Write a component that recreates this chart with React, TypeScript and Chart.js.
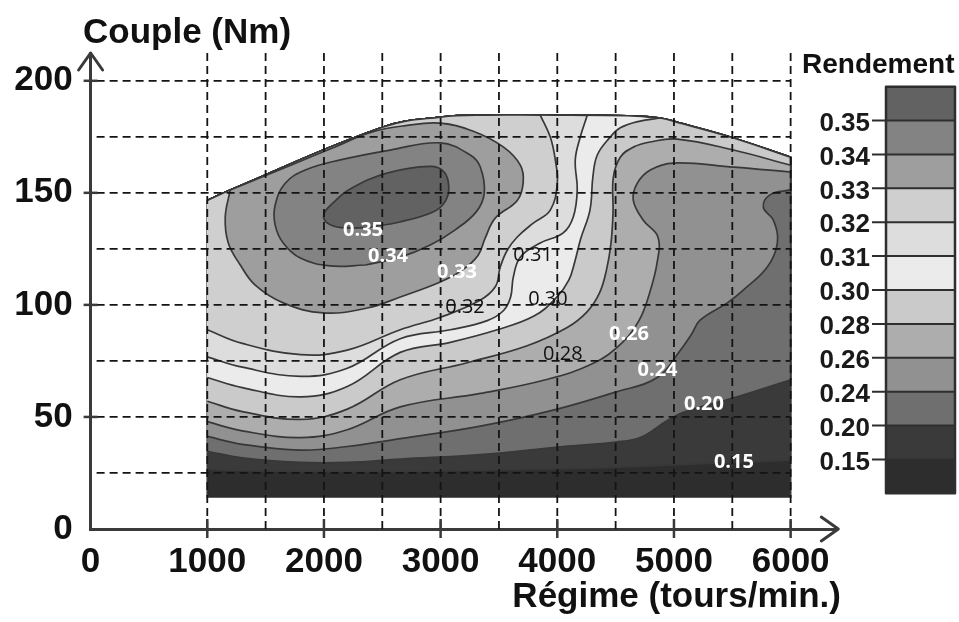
import { useEffect, useRef } from 'react';
import { Chart, registerables } from 'chart.js';

Chart.register(...registerables);

type Pt = [number, number];

// ---------- axes ----------
const rpmMax = 6400;
const torqueMax = 212.4;
const rpmTicks = [0, 1000, 2000, 3000, 4000, 5000, 6000];
const torqueTicks = [0, 50, 100, 150, 200];
const rpmGrid = [1000, 1500, 2000, 2500, 3000, 3500, 4000, 4500, 5000, 5500, 6000];
const torqueGrid = [25, 50, 75, 100, 125, 150, 175, 200];
const rpmTickMarks = [1000, 2000, 3000, 4000, 5000, 6000];
const torqueTickMarks = [50, 100, 150, 200];

// ---------- map outline (rpm, Nm) ----------
const mapLeftRpm = 1000;
const mapRightRpm = 6000;
const mapFloorNm = 14;
const envelopeTop: Pt[] = [
  [1000, 146.6], [1197, 151.3], [2508, 179.4], [3000, 183.8], [3400, 184.7],
  [4000, 184.7], [4600, 184.4], [4883, 183.4], [5054, 181.1], [5483, 174.9], [6000, 165.9],
];

// ---------- iso-efficiency lines (left edge -> envelope) ----------
const iso015: Pt[] = [[1000, 26.6], [1300, 26.1], [1800, 25.6], [2200, 25.6], [2654, 25.6], [3200, 26.1], [3800, 26.6], [4400, 27.4], [5000, 28.6], [5500, 29.7], [6000, 30.7]];
const iso020: Pt[] = [[1000, 34.7], [1300, 31.7], [1800, 29.7], [2200, 29.7], [2654, 31.2], [3341, 33.2], [4050, 36.8], [4500, 38.8], [4711, 40.8], [4943, 48.4], [5100, 52.4], [5510, 58.5], [6000, 66.6]];
const iso024: Pt[] = [[1000, 41.3], [1300, 37.8], [1800, 35.2], [2200, 36.8], [2654, 40.3], [3341, 45.9], [4000, 53.5], [4500, 61.1], [4857, 67.6], [5055, 79.8], [5150, 86.9], [5226, 93.3], [5457, 100.9], [5594, 106.6], [5800, 116.9], [5886, 127.6], [5852, 137.8], [5766, 143.6], [5826, 149.2], [6000, 151.3]];
const iso026: Pt[] = [[1000, 47.9], [1300, 43.8], [1800, 40.8], [2200, 44.3], [2654, 54.5], [3341, 60.5], [3900, 66.6], [4300, 73.7], [4550, 82.8], [4700, 93], [4790, 105.1], [4857, 119.3], [4862, 130.4], [4737, 137.8], [4651, 146.8], [4686, 154.3], [4797, 160.2], [4994, 163.3], [5511, 161.5], [6000, 159.3]];
const iso028: Pt[] = [[1000, 57], [1300, 52.4], [1800, 48.9], [2200, 53.5], [2654, 66.6], [3228, 74.2], [3742, 81.8], [4085, 89.9], [4257, 97], [4360, 105.1], [4420, 115.2], [4460, 127.4], [4478, 141.6], [4480, 156.8], [4540, 165.9], [4651, 170.4], [4797, 172.7], [5028, 174], [5511, 169.1], [6000, 162.3]];
const iso030: Pt[] = [[1000, 67.6], [1300, 63.1], [1800, 59], [2200, 63.6], [2654, 78.8], [3083, 83.3], [3485, 88.9], [3800, 95], [3990, 103.1], [4100, 111.2], [4150, 119.3], [4200, 129.4], [4280, 142.3], [4305, 157.1], [4343, 166.9], [4454, 174.9], [4540, 179], [4700, 181.9], [4883, 183.4]];
const iso031: Pt[] = [[1000, 76.8], [1300, 72.2], [1800, 68.1], [2200, 71.7], [2654, 84.9], [3083, 88.9], [3400, 93], [3540, 97.5], [3600, 103.5], [3623, 112.4], [3683, 121.3], [3854, 127.6], [4051, 132.1], [4137, 139.2], [4171, 151.3], [4154, 164.7], [4197, 174.9], [4257, 184.6]];
const iso032: Pt[] = [[1000, 88.9], [1300, 82.8], [1800, 77.8], [2200, 79.8], [2654, 88.9], [3000, 94.5], [3330, 101.8], [3470, 108.2], [3511, 116.9], [3571, 124.4], [3657, 130.3], [3794, 136.5], [3940, 142.3], [4000, 154.3], [3983, 164.7], [3940, 174.9], [3854, 184.7]];
// closed islands
const iso033: Pt[] = [[1197, 151.3], [1700, 162], [2100, 170.6], [2400, 177], [2700, 180], [2997, 181.1], [3280, 177.5], [3537, 170.5], [3683, 162.4], [3708, 154.7], [3657, 146.6], [3468, 138.7], [3382, 129.8], [3322, 122.2], [3185, 115.5], [2997, 110.2], [2654, 103.5], [2371, 98.6], [1994, 96.4], [1651, 100.9], [1411, 108.8], [1283, 117.8], [1180, 127.6], [1154, 139.2]];
const iso034: Pt[] = [[2354, 117.8], [2054, 117.4], [1797, 120.9], [1651, 127.6], [1582, 135.6], [1582, 144.6], [1668, 154.3], [1840, 160.2], [2140, 164.7], [2568, 169.1], [2997, 172.3], [3254, 166.9], [3340, 161.5], [3374, 149.9], [3305, 141.5], [3125, 133.5], [2911, 126.7], [2654, 121.3]];
const iso035: Pt[] = [[2370, 134.5], [2150, 134.5], [2030, 136.5], [2000, 140.6], [2080, 145.6], [2225, 151.7], [2540, 158.8], [2910, 161.8], [3030, 159.3], [3070, 152.7], [3040, 146.2], [2940, 141.6], [2650, 137]];

// ---------- levels & colours ----------
const levelLabels = ['0.15', '0.20', '0.24', '0.26', '0.28', '0.30', '0.31', '0.32', '0.33', '0.34', '0.35'];
// index 0 = below 0.15 ... index 11 = above 0.35
const bandColors = ['#2d2d2d', '#3a3a3a', '#6f6f6f', '#919191', '#adadad', '#cacaca', '#ebebeb', '#dddddd', '#cfcfcf', '#9e9e9e', '#838383', '#626262'];

// ---------- contour labels ----------
const tagText = ['0.35', '0.34', '0.33', '0.32', '0.31', '0.30', '0.28', '0.26', '0.24', '0.20', '0.15'];
const tagRpm = [2335, 2549, 3140, 3209, 3792, 3920, 4048, 4615, 4859, 5257, 5514];
const tagNm = [133.4, 121.8, 114.7, 98.8, 122, 102.4, 77.9, 86.8, 70.7, 55.5, 29.7];
const tagWhite = [true, true, true, false, false, false, false, true, true, true, true];

const FONT_AXIS = '"Liberation Sans", Arial, Helvetica, sans-serif';
const FONT_TAG = '"Open Sans", "Noto Sans", sans-serif';
const LINE_COLOR = '#383838';
const AXIS_COLOR = '#3a3a3a';

function twice(p: Pt): Pt[] {
  return [p, p];
}

function outlineRegion(): Pt[] {
  const first = envelopeTop[0];
  const last = envelopeTop[envelopeTop.length - 1];
  return [[mapLeftRpm, mapFloorNm], ...twice(first), ...envelopeTop.slice(1, -1), ...twice(last), [mapRightRpm, mapFloorNm]];
}

function regionAbove(iso: Pt[]): Pt[] {
  const end = iso[iso.length - 1];
  const endsOnRight = end[0] >= mapRightRpm;
  const back = envelopeTop.filter((p) => endsOnRight || p[0] < end[0] - 30).reverse();
  const pts: Pt[] = [...iso.slice(0, -1), ...twice(end)];
  if (endsOnRight) pts.push(...twice(back[0]), ...back.slice(1));
  else pts.push(...back);
  return pts;
}

function closeLoop(loop: Pt[]): Pt[] {
  return [...loop, loop[0]];
}

const decorPlugin = {
  id: 'decor',
  afterDatasetsDraw(chart: any) {
    const { ctx } = chart;
    const xs = chart.scales.x;
    const ys = chart.scales.y;
    ctx.save();
    // dashed grid over the map
    ctx.strokeStyle = '#141414';
    ctx.lineWidth = 1.8;
    ctx.setLineDash([8, 5]);
    const yBottom = ys.getPixelForValue(0);
    const yTop = ys.getPixelForValue(torqueMax);
    for (const r of rpmGrid) {
      const px = xs.getPixelForValue(r);
      ctx.beginPath();
      ctx.moveTo(px, yTop);
      ctx.lineTo(px, yBottom);
      ctx.stroke();
    }
    const xStart = xs.getPixelForValue(0) + 6;
    const xEnd = xs.getPixelForValue(mapRightRpm);
    for (const t of torqueGrid) {
      const py = ys.getPixelForValue(t);
      ctx.beginPath();
      ctx.moveTo(xStart, py);
      ctx.lineTo(xEnd, py);
      ctx.stroke();
    }
    ctx.setLineDash([]);
    // contour values
    ctx.textAlign = 'center';
    ctx.textBaseline = 'middle';
    tagText.forEach((t, i) => {
      ctx.font = `${tagWhite[i] ? 'bold ' : ''}20px ${FONT_TAG}`;
      ctx.fillStyle = tagWhite[i] ? '#ffffff' : '#111111';
      ctx.fillText(t, xs.getPixelForValue(tagRpm[i]), ys.getPixelForValue(tagNm[i]));
    });
    ctx.restore();
  },
  afterDraw(chart: any) {
    const { ctx } = chart;
    const xs = chart.scales.x;
    const ys = chart.scales.y;
    const ax = xs.getPixelForValue(0);
    const ay = ys.getPixelForValue(0);
    const top = ys.getPixelForValue(torqueMax);
    const right = xs.getPixelForValue(rpmMax);
    ctx.save();
    ctx.strokeStyle = AXIS_COLOR;
    ctx.lineWidth = 3;
    ctx.lineCap = 'round';
    ctx.lineJoin = 'round';
    // arrow heads
    ctx.beginPath();
    ctx.moveTo(ax - 12, top + 17);
    ctx.lineTo(ax, top);
    ctx.lineTo(ax + 12, top + 17);
    ctx.stroke();
    ctx.beginPath();
    ctx.moveTo(right - 16, ay - 12);
    ctx.lineTo(right + 1, ay);
    ctx.lineTo(right - 16, ay + 12);
    ctx.stroke();
    // tick marks
    ctx.lineWidth = 2.5;
    ctx.lineCap = 'butt';
    for (const t of torqueTickMarks) {
      const py = ys.getPixelForValue(t);
      ctx.beginPath();
      ctx.moveTo(ax - 7, py);
      ctx.lineTo(ax + 7, py);
      ctx.stroke();
    }
    for (const r of rpmTickMarks) {
      const px = xs.getPixelForValue(r);
      ctx.beginPath();
      ctx.moveTo(px, ay - 10);
      ctx.lineTo(px, ay + 9);
      ctx.stroke();
    }
    // axis titles
    ctx.fillStyle = '#111111';
    ctx.font = `bold 35px ${FONT_AXIS}`;
    ctx.textBaseline = 'alphabetic';
    ctx.textAlign = 'left';
    ctx.fillText('Couple (Nm)', 83, 43);
    ctx.textAlign = 'right';
    ctx.fillText('Régime (tours/min.)', 841, 607);
    // colour bar legend
    ctx.textAlign = 'left';
    ctx.font = `bold 28px ${FONT_AXIS}`;
    ctx.fillText('Rendement', 802, 73);
    const barL = 886;
    const barR = 955;
    const barT = 86.7;
    const barB = 493.3;
    const n = bandColors.length;
    const h = (barB - barT) / n;
    for (let k = 0; k < n; k++) {
      ctx.fillStyle = bandColors[n - 1 - k];
      ctx.fillRect(barL, barT + k * h, barR - barL, h);
    }
    ctx.strokeStyle = '#2e2e2e';
    ctx.lineWidth = 2;
    ctx.font = `bold 26px ${FONT_AXIS}`;
    ctx.fillStyle = '#1a1a1a';
    ctx.textAlign = 'right';
    ctx.textBaseline = 'middle';
    for (let k = 1; k < n; k++) {
      const y = barT + k * h;
      ctx.beginPath();
      ctx.moveTo(872, y);
      ctx.lineTo(barR, y);
      ctx.stroke();
      ctx.fillText(levelLabels[n - 1 - k], 870, y + 3);
    }
    ctx.lineWidth = 2.5;
    ctx.strokeRect(barL, barT, barR - barL, barB - barT);
    ctx.restore();
  },
};

export default function App() {
  const ref = useRef<HTMLCanvasElement>(null);

  useEffect(() => {
    const canvas = ref.current;
    if (!canvas) return;
    const regions: Pt[][] = [
      outlineRegion(),
      regionAbove(iso015),
      regionAbove(iso020),
      regionAbove(iso024),
      regionAbove(iso026),
      regionAbove(iso028),
      regionAbove(iso030),
      regionAbove(iso031),
      regionAbove(iso032),
      closeLoop(iso033),
      closeLoop(iso034),
      closeLoop(iso035),
    ];
    const datasets = regions.map((pts, i) => ({
      type: 'line' as const,
      data: pts.map(([x, y]) => ({ x, y })),
      parsing: false as const,
      fill: 'shape' as any,
      backgroundColor: bandColors[i],
      borderColor: LINE_COLOR,
      borderWidth: 1.7,
      borderJoinStyle: 'round' as const,
      pointRadius: 0,
      pointHoverRadius: 0,
      tension: 0.4,
      order: regions.length - i,
    }));

    const tickFont = { family: FONT_AXIS, size: 35, weight: 'bold' as const };

    const chart = new Chart(canvas, {
      type: 'line',
      data: { datasets: datasets as any },
      options: {
        responsive: false,
        animation: false,
        events: [],
        layout: { padding: { left: 0, right: 121.7, top: 53, bottom: 0 } },
        plugins: {
          legend: { display: false },
          tooltip: { enabled: false },
          title: { display: false },
        },
        scales: {
          x: {
            type: 'linear',
            min: 0,
            max: rpmMax,
            afterFit: (s: any) => {
              s.height = 93;
            },
            afterBuildTicks: (s: any) => {
              s.ticks = rpmTicks.map((v) => ({ value: v }));
            },
            grid: { display: false, drawTicks: false },
            border: { display: true, color: AXIS_COLOR, width: 3 },
            ticks: {
              autoSkip: false,
              maxRotation: 0,
              minRotation: 0,
              padding: 12,
              color: '#111111',
              font: tickFont,
              callback: (v: any) => String(v),
            },
          },
          y: {
            type: 'linear',
            min: 0,
            max: torqueMax,
            afterFit: (s: any) => {
              s.width = 90.6;
            },
            afterBuildTicks: (s: any) => {
              s.ticks = torqueTicks.map((v) => ({ value: v }));
            },
            grid: { display: false, drawTicks: false },
            border: { display: true, color: AXIS_COLOR, width: 3 },
            ticks: {
              padding: 18,
              color: '#111111',
              font: tickFont,
              callback: (v: any) => String(v),
            },
          },
        },
      },
      plugins: [decorPlugin],
    });
    return () => chart.destroy();
  }, []);

  return (
    <div style={{ position: 'absolute', left: 0, top: 0, width: 959, height: 622, background: '#ffffff' }}>
      <canvas ref={ref} width={959} height={622} style={{ display: 'block', width: 959, height: 622 }} />
    </div>
  );
}
